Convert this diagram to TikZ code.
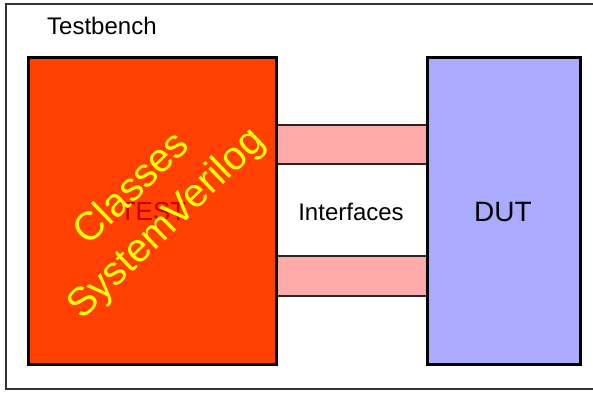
\documentclass[tikz,border=0pt]{standalone}
\usepackage{fontspec}
\setmainfont{Liberation Sans}
\definecolor{testred}{HTML}{FF4000}
\definecolor{testlabel}{HTML}{C80000}
\definecolor{ifpink}{HTML}{FFAAAA}
\definecolor{dutblue}{HTML}{AAAAFF}
\definecolor{noteyellow}{HTML}{FFFF00}
\definecolor{framegray}{HTML}{333333}
\tikzset{
  block/.style={draw=black, line width=3pt, inner sep=0pt},
  busbar/.style={draw=black!85, line width=2pt, fill=ifpink, inner sep=0pt},
  label/.style={inner sep=0pt, text=black}
}
\begin{document}
\begin{tikzpicture}[x=1pt, y=-1pt]
\useasboundingbox (0,0) rectangle (593,392);
% testbench frame, running off the right edge
\begin{scope}
  \clip (0,0) rectangle (593,392);
  \draw[framegray, line width=2pt] (6,4) rectangle (620,389);
\end{scope}
\node[label, anchor=base west, font=\fontsize{24}{28}\selectfont] (tb) at (47,34) {Testbench};
% interface bars
\node[busbar, minimum width=152pt, minimum height=39pt] (ifup) at (352,144.5) {};
\node[busbar, minimum width=152pt, minimum height=40pt] (iflow) at (352,276) {};
% test and DUT blocks
\node[block, fill=testred, minimum width=248pt, minimum height=307pt] (test) at (152,210.5) {};
\node[block, fill=dutblue, minimum width=153pt, minimum height=307pt] (dut) at (503.5,210.5) {};
\node[label, text=testlabel, font=\fontsize{26}{30}\selectfont] (testtxt) at (153,212) {TEST};
\node[label, font=\fontsize{28}{32}\selectfont] (duttxt) at (503,212) {DUT};
\node[label, font=\fontsize{24}{28}\selectfont] (iftxt) at (351,212) {Interfaces};
% rotated note
\node[label, text=noteyellow, rotate=44, align=center, font=\fontsize{40}{49}\selectfont] (note) at (150,207) {Classes\\SystemVerilog};
\end{tikzpicture}
\end{document}
